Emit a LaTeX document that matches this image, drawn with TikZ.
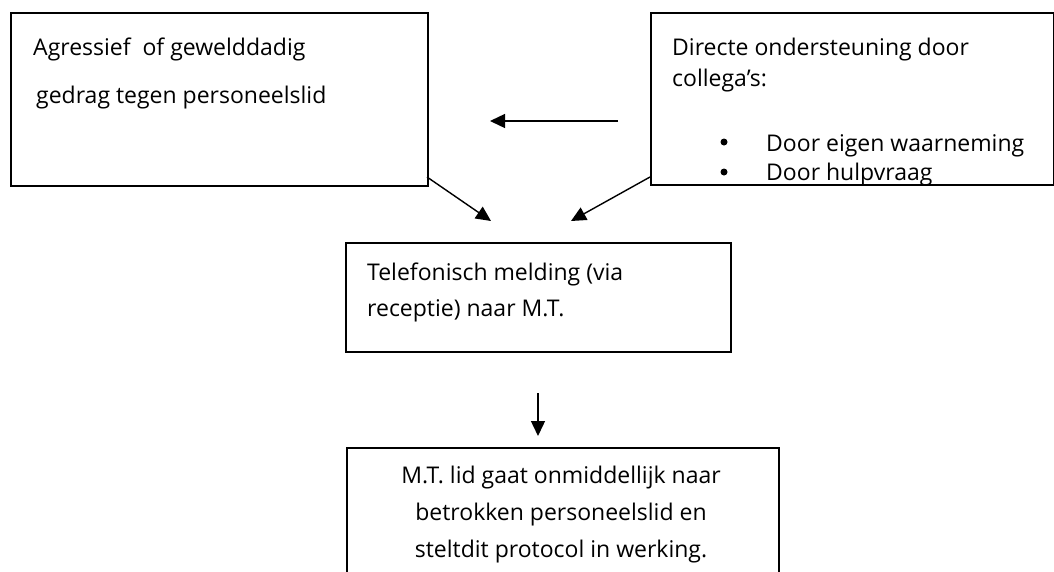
\documentclass[tikz,border=0pt]{standalone}
\usepackage{fontspec}
\setmainfont{Open Sans}
\usetikzlibrary{arrows.meta}
\begin{document}
\begin{tikzpicture}[x=1pt,y=-1pt,
  box/.style={draw=black,line width=1.5pt,fill=white,inner sep=0pt,anchor=north west},
  txt/.style={inner sep=0pt,anchor=base west,font=\fontsize{23}{27}\selectfont},
  ctxt/.style={inner sep=0pt,anchor=base,font=\fontsize{23}{27}\selectfont},
  bul/.style={circle,fill=black,inner sep=0pt,minimum size=7pt},
  arr/.style={line width=1.4pt,-{Triangle[length=15pt,width=14pt]}}]
\useasboundingbox (0,0) rectangle (1054,571);
\clip (0,0) rectangle (1054,571);
% boxes
\node[box,minimum width=417pt,minimum height=173pt] (b1) at (10,12) {};
\node[box,minimum width=403pt,minimum height=172pt] (b2) at (650,12) {};
\node[box,minimum width=385pt,minimum height=109pt] (b3) at (345,242) {};
\node[box,minimum width=432pt,minimum height=150pt] (b4) at (346,447) {};
% box 1 text
\node[txt] (t1a) at (33,55) {Agressief\ \ of gewelddadig};
\node[txt] (t1b) at (36,103) {gedrag tegen personeelslid};
% box 2 text
\node[txt] (t2a) at (672,55) {Directe ondersteuning door};
\node[txt] (t2b) at (672,86) {collega’s:};
\node[bul] (d1) at (724,142) {};
\node[txt] (t2c) at (766,151) {Door eigen waarneming};
\begin{scope}
  \clip (651,13) rectangle (1052,183.5);
  \node[bul] (d2) at (724,172) {};
  \node[txt] (t2d) at (766,180) {Door hulpvraag};
\end{scope}
% box 3 text
\node[txt] (t3a) at (367,280) {Telefonisch melding (via};
\node[txt] (t3b) at (367,316) {receptie) naar M.T.};
% box 4 text
\node[ctxt] (t4a) at (561,483) {M.T. lid gaat onmiddellijk naar};
\node[ctxt] (t4b) at (561,520) {betrokken personeelslid en};
\node[ctxt] (t4c) at (561,557) {steltdit protocol in werking.};
% arrow coordinates
\coordinate (h1) at (618,121);
\coordinate (h2) at (490,121);
\coordinate (l1) at (427,177);
\coordinate (l2) at (491,221);
\coordinate (r1) at (650,177);
\coordinate (r2) at (571,221);
\coordinate (v1) at (538,393);
\coordinate (v2) at (538,436);
\draw[arr] (h1) -- (h2);
\draw[arr] (l1) -- (l2);
\draw[arr] (r1) -- (r2);
\draw[arr] (v1) -- (v2);
\end{tikzpicture}
\end{document}
